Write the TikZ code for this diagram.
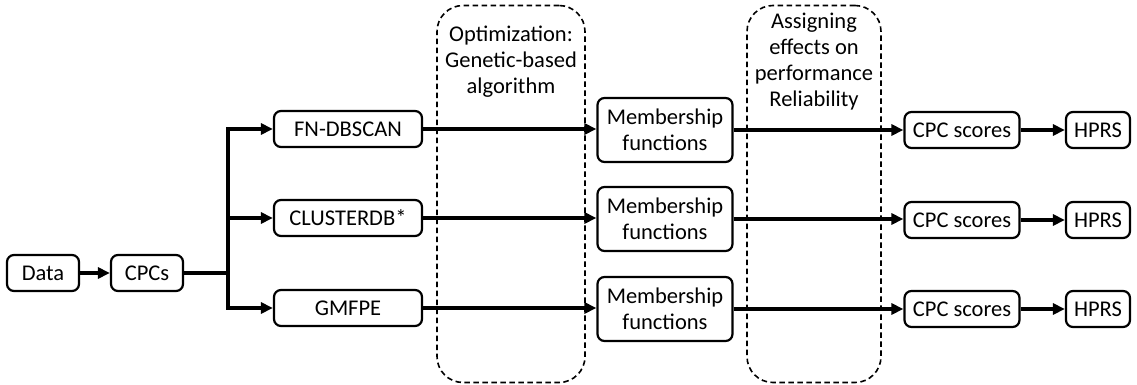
\documentclass[tikz,border=0pt]{standalone}
\usepackage{fontspec}
\setmainfont{Carlito}
\usetikzlibrary{arrows.meta}
\begin{document}
\begin{tikzpicture}[x=1pt,y=-1pt,
  every node/.style={font=\fontsize{22.5}{26}\selectfont},
  box/.style={draw,line width=2.2pt,rounded corners=7pt,inner sep=0pt,align=center},
  stage/.style={draw,dashed,dash pattern=on 5.5pt off 3.5pt,line width=1.6pt,rounded corners=26pt,inner sep=0pt},
  flow/.style={line width=3.2pt,-{Triangle[length=12pt,width=11pt]}},
  plain/.style={line width=3.2pt},
  caption/.style={align=center,inner sep=0pt}]
\useasboundingbox (0,0) rectangle (1137,385);

% dashed stage frames with their captions
\node[stage,minimum width=148pt,minimum height=377pt] (opt) at (511,194) {};
\node[stage,minimum width=134pt,minimum height=377pt] (rel) at (814,194) {};
\node[caption,anchor=north] (optlbl) at (511,26) {Optimization:\\Genetic-based\\algorithm};
\node[caption,anchor=north] (rellbl) at (814,13) {Assigning\\effects on\\performance\\Reliability};

% input chain
\node[box,minimum width=72pt,minimum height=36pt] (data) at (43,273) {Data};
\node[box,minimum width=72pt,minimum height=36pt] (cpcs) at (147,273) {CPCs};
\coordinate (br) at (228,273);

% clustering methods
\node[box,minimum width=148pt,minimum height=36pt] (fn) at (348,129) {FN-DBSCAN};
\node[box,minimum width=148pt,minimum height=36pt] (cl) at (348,218) {CLUSTERDB*};
\node[box,minimum width=148pt,minimum height=36pt] (gm) at (348,308) {GMFPE};

% membership functions
\node[box,minimum width=135pt,minimum height=64pt] (m1) at (665,130) {Membership\\functions};
\node[box,minimum width=135pt,minimum height=64pt] (m2) at (665,219) {Membership\\functions};
\node[box,minimum width=135pt,minimum height=64pt] (m3) at (665,309) {Membership\\functions};

% scores and final result
\node[box,minimum width=115pt,minimum height=36pt] (s1) at (962,130) {CPC scores};
\node[box,minimum width=115pt,minimum height=36pt] (s2) at (962,220) {CPC scores};
\node[box,minimum width=115pt,minimum height=36pt] (s3) at (962,309) {CPC scores};
\node[box,minimum width=64pt,minimum height=36pt] (h1) at (1098,130) {HPRS};
\node[box,minimum width=64pt,minimum height=36pt] (h2) at (1098,220) {HPRS};
\node[box,minimum width=64pt,minimum height=36pt] (h3) at (1098,309) {HPRS};

% connectors
\draw[flow] (data) -- (cpcs);
\draw[plain] (cpcs.east) -- (br);
\draw[flow] (br) |- (fn.west);
\draw[flow] (br) |- (cl.west);
\draw[flow] (br) |- (gm.west);

\draw[flow] (fn.east) -- (fn.east -| m1.west);
\draw[flow] (cl.east) -- (cl.east -| m2.west);
\draw[flow] (gm.east) -- (gm.east -| m3.west);

\draw[flow] (m1.east) -- (m1.east -| s1.west);
\draw[flow] (m2.east) -- (m2.east -| s2.west);
\draw[flow] (m3.east) -- (m3.east -| s3.west);

\draw[flow] (s1) -- (h1);
\draw[flow] (s2) -- (h2);
\draw[flow] (s3) -- (h3);
\end{tikzpicture}
\end{document}
